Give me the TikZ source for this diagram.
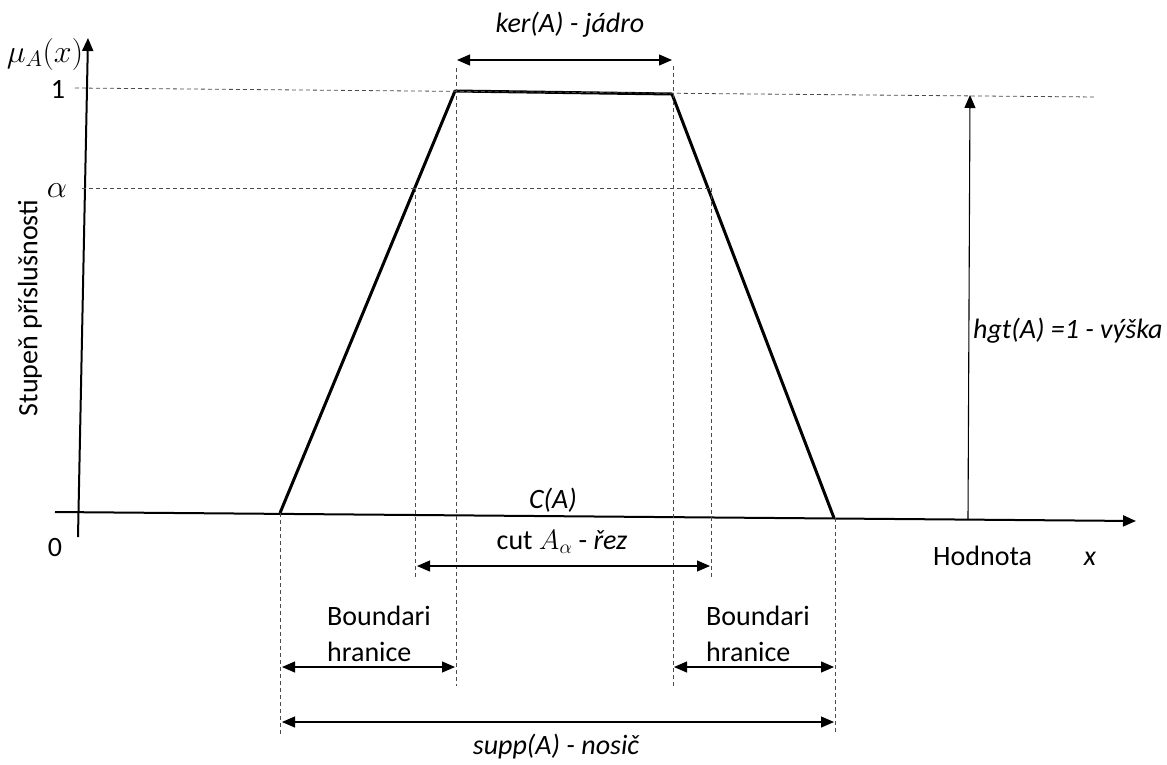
\RequirePackage{fix-cm}
\documentclass[tikz,border=0pt]{standalone}
\usepackage{fontspec}
\setmainfont{Carlito}
\usetikzlibrary{arrows.meta}
\begin{document}
\begin{tikzpicture}[x=1pt,y=-1pt,
  lbl/.style={inner sep=0pt,font=\fontsize{28}{37}\selectfont},
  mlbl/.style={inner sep=0pt,font=\fontsize{32}{37}\selectfont},
  ilbl/.style={inner sep=0pt,font=\fontsize{28}{37}\selectfont\itshape},
  axis/.style={line width=2pt,-{Triangle[length=13pt,width=11pt]}},
  curve/.style={line width=3pt,line join=round},
  guide/.style={line width=0.8pt,black!70,dash pattern=on 4pt off 3pt},
  dim/.style={line width=1.1pt,{Triangle[length=13pt,width=11pt]}-{Triangle[length=13pt,width=11pt]}},
  hgtarrow/.style={line width=1.1pt,-{Triangle[length=13pt,width=11pt]}}]
\useasboundingbox (0,0) rectangle (1167,764);

% axes
\coordinate (ybot) at (78,537);
\coordinate (ytop) at (88,38);
\coordinate (xl) at (55,512);
\coordinate (xr) at (1136,521);
\draw[axis] (ybot) -- (ytop);
\draw[axis] (xl) -- (xr);

% trapezoid corners
\coordinate (p0) at (280,513);
\coordinate (p1) at (455,91);
\coordinate (p2) at (672,94);
\coordinate (p3) at (834,518);
\draw[curve] (p0) -- (p1) -- (p2) -- (p3);

% horizontal guides
\coordinate (one0) at (75,88);
\coordinate (one1) at (1096,97);
\draw[guide] (one0) -- (one1);
\coordinate (al0) at (82,188);
\coordinate (al1) at (712,188);
\draw[guide] (al0) -- (al1);

% vertical guides
\coordinate (k1t) at (456,68);  \coordinate (k1b) at (456,686);
\coordinate (k2t) at (673,66);  \coordinate (k2b) at (673,686);
\coordinate (c1t) at (415,188); \coordinate (c1b) at (415,578);
\coordinate (c2t) at (711,188); \coordinate (c2b) at (711,578);
\coordinate (s1t) at (280,513); \coordinate (s1b) at (280,734);
\coordinate (s2t) at (835,518); \coordinate (s2b) at (835,734);
\foreach \a/\b in {k1t/k1b,k2t/k2b,c1t/c1b,c2t/c2b,s1t/s1b,s2t/s2b}
  \draw[guide] (\a) -- (\b);

% dimension arrows
\coordinate (ker0) at (457,60);  \coordinate (ker1) at (672,60);
\draw[dim] (ker0) -- (ker1);
\coordinate (cut0) at (417,566); \coordinate (cut1) at (710,566);
\draw[dim] (cut0) -- (cut1);
\coordinate (bl0) at (282,667);  \coordinate (bl1) at (455,667);
\draw[dim] (bl0) -- (bl1);
\coordinate (br0) at (674,667);  \coordinate (br1) at (834,667);
\draw[dim] (br0) -- (br1);
\coordinate (sp0) at (282,722);  \coordinate (sp1) at (834,722);
\draw[dim] (sp0) -- (sp1);
\coordinate (h0) at (968,519);   \coordinate (h1) at (970,95);
\draw[hgtarrow] (h0) -- (h1);

% labels
\node[mlbl,anchor=base] (mu) at (45,62) {$\mu_A(x)$};
\node[lbl,anchor=base] (l1) at (58,98) {1};
\node[mlbl,anchor=base] (la) at (57,197) {$\alpha$};
\node[lbl,anchor=base] (l0) at (55,556) {0};
\node[lbl,rotate=90] (ylab) at (30,308) {Stupeň příslušnosti};
\node[ilbl,anchor=base] (ker) at (570,32) {ker(A) - jádro};
\node[ilbl,anchor=base] (ca) at (553,508) {C(A)};
\node[lbl,anchor=base] (cut) at (562,549) {cut $A_\alpha$ - \textit{řez}};
\node[lbl,anchor=base west] (bdl1) at (327,625) {Boundari};
\node[lbl,anchor=base west] (bdl2) at (327,661) {hranice};
\node[lbl,anchor=base west] (bdr1) at (706,625) {Boundari};
\node[lbl,anchor=base west] (bdr2) at (706,661) {hranice};
\node[ilbl,anchor=base] (supp) at (556,754) {supp(A) - nosič};
\node[ilbl,anchor=base west] (hgt) at (973,338) {hgt(A) =1 - výška};
\node[lbl,anchor=base west] (hod) at (933,565) {Hodnota};
\node[ilbl,anchor=base] (xl) at (1090,565) {x};
\end{tikzpicture}
\end{document}
